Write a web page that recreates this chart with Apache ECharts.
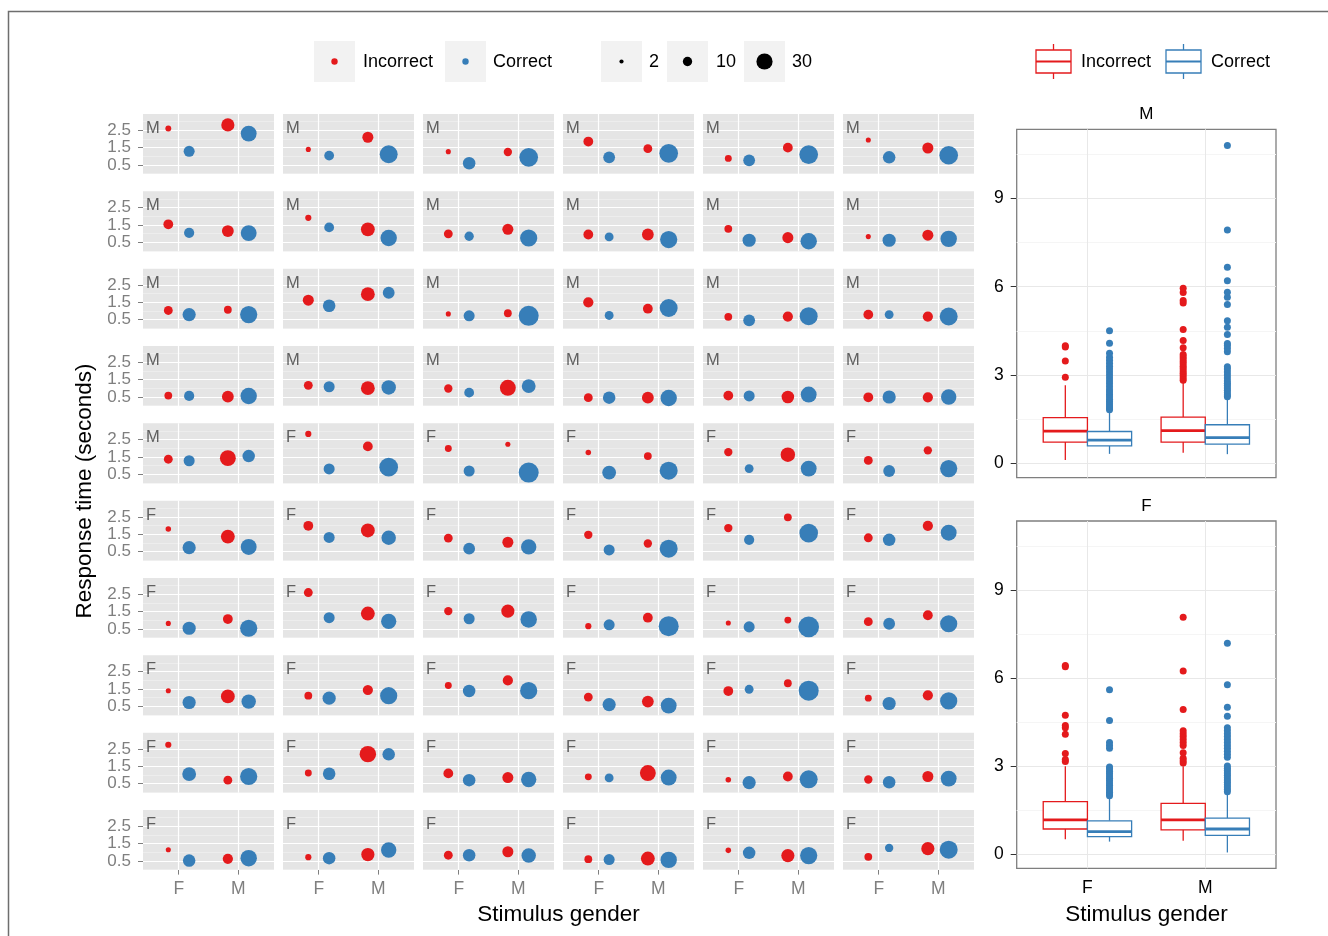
<!DOCTYPE html>
<html><head><meta charset="utf-8">
<script src="https://cdn.jsdelivr.net/npm/echarts@6/dist/echarts.min.js"></script>
<style>html,body{margin:0;padding:0;background:#fff}#c{width:1328px;height:936px}</style>
</head><body><div id="c"></div>
<script>
// ---------- DATA ----------
const stimLabels = ['F', 'M'];
const smallYTicks = [0.5, 1.5, 2.5];
const boxYTicks = [0, 3, 6, 9];
const sizeLegendValues = [2, 10, 30];
const responseLabels = ['Incorrect', 'Correct'];
const participantGender = [
 'M','M','M','M','M','M',
 'M','M','M','M','M','M',
 'M','M','M','M','M','M',
 'M','M','M','M','M','M',
 'M','F','F','F','F','F',
 'F','F','F','F','F','F',
 'F','F','F','F','F','F',
 'F','F','F','F','F','F',
 'F','F','F','F','F','F',
 'F','F','F','F','F','F'];
// mean response time (s) and number of trials per panel (row-major, 10 rows x 6 cols)
const incF_rt = [2.60,1.40,1.27,1.85,0.88,1.94, 1.54,1.91,0.99,0.95,1.28,0.83, 1.03,1.62,0.83,1.50,0.66,0.79, 0.58,1.17,0.99,0.46,0.58,0.48, 1.37,2.83,1.99,1.76,1.78,1.30,
                 1.80,1.99,1.28,1.47,1.86,1.30, 0.82,2.60,1.53,0.66,0.84,0.92, 1.40,1.11,1.70,1.03,1.38,0.97, 2.74,1.11,1.09,0.89,0.72,0.74, 1.15,0.72,0.83,0.60,1.11,0.74];
const incF_n  = [4,3,3,11,5.5,3, 11,4.4,9,11,7,3, 9,14,3,12,7,11, 7,9,8,9,11,11, 9,4.4,5.5,3.5,8,9,
                 3.5,11,9,8,8,9, 3,9,8,4.4,3,9, 3,7,5.5,9,11,5.5, 4.4,5.5,11,5.5,3.5,8, 3,4.4,9,7,3.5,7];
const corF_rt = [1.29,1.04,0.60,0.94,0.77,0.94, 1.05,1.36,0.85,0.81,0.62,0.62, 0.79,1.30,0.72,0.74,0.46,0.79, 0.56,1.09,0.75,0.46,0.56,0.50, 1.28,0.81,0.69,0.60,0.83,0.69,
                 0.73,1.32,0.67,0.60,1.18,1.18, 0.54,1.15,1.09,0.74,0.62,0.80, 0.72,0.97,1.38,0.60,1.48,0.66, 1.05,1.07,0.70,0.83,0.56,0.58, 0.52,0.66,0.83,0.58,0.97,1.25];
const corF_n  = [14,11,18,16,16,18, 12,11,10,9,20,20, 20,18,14,9,16,9, 12,14,11,18,14,20, 14,14,14,22,9,16,
                 20,14,16,14,12,18, 20,14,14,14,14,16, 20,20,18,20,9,20, 22,18,18,9,20,18, 18,18,18,14,18,8];
const incM_rt = [2.81,2.10,1.25,1.44,1.50,1.48, 1.15,1.25,1.25,0.95,0.77,0.91, 1.07,1.97,0.87,1.13,0.68,0.68, 0.52,1.01,1.03,0.46,0.50,0.48, 1.43,2.11,2.23,1.55,1.63,1.88,
                 1.37,1.72,1.04,0.97,2.48,1.99, 1.07,1.39,1.53,1.15,1.01,1.29, 1.07,1.44,1.99,0.77,1.83,1.13, 0.70,2.20,0.85,1.11,0.91,0.91, 0.62,0.87,1.03,0.64,0.81,1.21];
const incM_n  = [20,14,8,9,11,14, 16,22,14,16,14,14, 7,22,7,11,12,12, 16,22,29,16,18,12, 29,11,3,7,24,8,
                 22,22,14,8,7,12, 11,22,20,11,5.5,11, 22,12,12,16,7,12, 9,31,14,29,11,14, 12,20,14,22,20,20];
const corM_rt = [2.31,1.12,0.94,1.17,1.10,1.06, 1.03,0.75,0.75,0.66,0.56,0.70, 0.79,2.05,0.72,1.17,0.70,0.68, 0.56,1.05,1.13,0.44,0.64,0.50, 1.55,0.91,0.60,0.71,0.83,0.83,
                 0.77,1.30,0.77,0.67,1.57,1.59, 0.54,0.94,1.05,0.66,0.62,0.80, 0.77,1.11,1.40,0.54,1.40,0.81, 0.91,2.19,0.74,0.85,0.75,0.79, 0.66,1.13,0.81,0.56,0.81,1.15];
const corM_n  = [29,37,40,40,40,40, 29,31,34,34,31,31, 34,16,46,37,37,37, 31,24,22,31,29,27, 18,40,46,37,29,34,
                 29,24,27,37,40,29, 34,27,31,46,49,34, 24,34,34,29,46,34, 34,18,27,29,37,29, 31,27,24,31,34,37];
// box plots: [lower whisker, Q1, median, Q3, upper whisker]
const boxPanels = ['M', 'F'];
const boxStats = {
  M: { incF: [0.11,0.72,1.09,1.55,2.65], corF: [0.32,0.59,0.79,1.08,1.76], incM: [0.36,0.72,1.11,1.57,2.74], corM: [0.31,0.65,0.87,1.31,2.21] },
  F: { incF: [0.50,0.85,1.16,1.78,2.99], corF: [0.42,0.59,0.76,1.13,1.93], incM: [0.45,0.82,1.16,1.72,2.99], corM: [0.05,0.63,0.85,1.22,2.06] }
};
const boxOutliers = {
  M: { incF: [2.92,3.48,3.95,3.99],
       corF: [1.82,1.88,1.95,2.02,2.1,2.18,2.26,2.34,2.42,2.5,2.6,2.7,2.8,2.9,3.0,3.1,3.2,3.3,3.4,3.5,3.6,3.74,4.08,4.5],
       incM: [2.82,2.9,2.98,3.06,3.14,3.22,3.3,3.38,3.46,3.54,3.62,3.7,3.93,4.17,4.55,5.45,5.53,5.8,5.95],
       corM: [2.26,2.32,2.4,2.48,2.56,2.64,2.72,2.8,2.9,3.0,3.1,3.2,3.28,3.79,3.9,4.0,4.07,4.38,4.62,4.84,5.4,5.64,5.81,6.2,6.66,7.93,10.8] },
  F: { incF: [3.15,3.22,3.42,4.08,4.3,4.38,4.73,6.38,6.42],
       corF: [1.98,2.04,2.1,2.18,2.26,2.34,2.42,2.5,2.58,2.66,2.74,2.82,2.9,2.96,3.6,3.7,3.8,4.55,5.6],
       incM: [3.1,3.18,3.26,3.45,3.7,3.8,3.9,4.0,4.1,4.2,4.92,6.24,8.07],
       corM: [2.12,2.2,2.28,2.36,2.44,2.52,2.6,2.68,2.76,2.84,2.92,3.0,3.3,3.4,3.5,3.6,3.7,3.8,3.9,4.0,4.1,4.2,4.3,4.69,5.0,5.77,7.18] }
};

// ---------- STYLE / LAYOUT ----------
const RED = '#E41A1C', BLUE = '#377EB8';
const FONT = 'Liberation Sans, Arial, sans-serif';
const P = { x0: 143, dx: 140, w: 131, y0: 114, dy: 77.33, h: 60 };
const DODGE = 0.175;
const sizeOf = n => 2.95 * Math.sqrt(n);

const grids = [], xAxes = [], yAxes = [], series = [], graphics = [];
const noEmph = { disabled: true };

for (let i = 0; i < 60; i++) {
  const r = Math.floor(i / 6), c = i % 6;
  const left = P.x0 + c * P.dx, top = P.y0 + r * P.dy;
  grids.push({ left, top, width: P.w, height: P.h, show: true, backgroundColor: '#E5E5E5', borderWidth: 0 });
  xAxes.push({
    type: 'value', gridIndex: i, min: 0.4, max: 2.6, splitLine: { show: false }, axisLine: { show: false },
    axisTick: { show: r === 9, customValues: [1, 2], length: 5, lineStyle: { color: '#7F7F7F', width: 1 } },
    axisLabel: { show: r === 9, customValues: [1, 2], formatter: v => stimLabels[Math.round(v) - 1], color: '#7F7F7F', fontSize: 17.5, fontFamily: FONT, margin: 10 }
  });
  yAxes.push({
    type: 'value', gridIndex: i, min: -0.02, max: 3.44, splitLine: { show: false }, axisLine: { show: false },
    axisTick: { show: c === 0, customValues: smallYTicks, length: 5, lineStyle: { color: '#7F7F7F', width: 1 } },
    axisLabel: { show: c === 0, customValues: smallYTicks, formatter: v => v.toFixed(1), color: '#7F7F7F', fontSize: 17, fontFamily: FONT, margin: 12 }
  });
  const gl = [];
  [0, 1, 2, 3].forEach(v => gl.push({ yAxis: v, lineStyle: { color: '#F2F2F2', width: 0.6 } }));
  smallYTicks.forEach(v => gl.push({ yAxis: v, lineStyle: { color: '#FFFFFF', width: 1.2 } }));
  [1, 2].forEach(v => gl.push({ xAxis: v, lineStyle: { color: '#FFFFFF', width: 1.2 } }));
  series.push({
    name: responseLabels[0], type: 'scatter', xAxisIndex: i, yAxisIndex: i, z: 5,
    data: [[1 - DODGE, incF_rt[i], incF_n[i]], [2 - DODGE, incM_rt[i], incM_n[i]]],
    symbolSize: v => sizeOf(v[2]), itemStyle: { color: RED, opacity: 1 }, emphasis: noEmph, silent: true,
    markLine: { silent: true, z: 1, symbol: ['none', 'none'], label: { show: false }, emphasis: noEmph, animation: false,
      lineStyle: { type: 'solid' }, data: gl }
  });
  series.push({
    name: responseLabels[1], type: 'scatter', xAxisIndex: i, yAxisIndex: i, z: 5,
    data: [[1 + DODGE, corF_rt[i], corF_n[i]], [2 + DODGE, corM_rt[i], corM_n[i]]],
    symbolSize: v => sizeOf(v[2]), itemStyle: { color: BLUE, opacity: 1 }, emphasis: noEmph, silent: true
  });
  // participant gender label (top-left of each panel)
  series.push({
    type: 'scatter', xAxisIndex: i, yAxisIndex: i, z: 6, silent: true, symbolSize: 0,
    data: [[0.4, 3.44, participantGender[i]]],
    label: { show: true, position: 'insideTopLeft', formatter: p => p.data[2], color: '#3C3C3C', fontSize: 16.5, fontFamily: FONT, offset: [-2, 1] },
    emphasis: noEmph
  });
}

// ---------- BOX PLOT PANELS ----------
const BOX = [{ top: 129.3, height: 348.4 }, { top: 521, height: 347.3 }];
const BL = 1016.7, BW = 259.3, BOXW = 0.375;
function boxRender(color) {
  return function (params, api) {
    const x = api.value(0), lo = api.value(1), q1 = api.value(2), md = api.value(3), q3 = api.value(4), hi = api.value(5);
    const h = BOXW / 2;
    const a = api.coord([x - h, q3]), b = api.coord([x + h, q1]);
    const t = api.coord([x, hi]), u = api.coord([x, q3]), d = api.coord([x, q1]), e = api.coord([x, lo]);
    const m1 = api.coord([x - h, md]), m2 = api.coord([x + h, md]);
    const ls = { stroke: color, lineWidth: 1.3, fill: null };
    return { type: 'group', children: [
      { type: 'line', shape: { x1: t[0], y1: t[1], x2: u[0], y2: u[1] }, style: ls },
      { type: 'line', shape: { x1: d[0], y1: d[1], x2: e[0], y2: e[1] }, style: ls },
      { type: 'rect', shape: { x: a[0], y: a[1], width: b[0] - a[0], height: b[1] - a[1] }, style: { stroke: color, lineWidth: 1.3, fill: '#fff' } },
      { type: 'line', shape: { x1: m1[0], y1: m1[1], x2: m2[0], y2: m2[1] }, style: { stroke: color, lineWidth: 2.8 } }
    ] };
  };
}
boxPanels.forEach((g, k) => {
  const gi = 60 + k;
  grids.push({ left: BL, top: BOX[k].top, width: BW, height: BOX[k].height, show: true, backgroundColor: '#fff', borderColor: '#7F7F7F', borderWidth: 1.3 });
  xAxes.push({
    type: 'value', gridIndex: gi, min: 0.4, max: 2.6, splitLine: { show: false }, axisLine: { show: false },
    axisTick: { show: k === 1, customValues: [1, 2], length: 6, lineStyle: { color: '#333', width: 1 } },
    axisLabel: { show: k === 1, customValues: [1, 2], formatter: v => stimLabels[Math.round(v) - 1], color: '#000', fontSize: 17.5, fontFamily: FONT, margin: 11 }
  });
  yAxes.push({
    type: 'value', gridIndex: gi, min: -0.49, max: 11.35, splitLine: { show: false }, axisLine: { show: false },
    axisTick: { show: true, customValues: boxYTicks, length: 6, lineStyle: { color: '#333', width: 1 } },
    axisLabel: { show: true, customValues: boxYTicks, color: '#000', fontSize: 17.5, fontFamily: FONT, margin: 13 }
  });
  const gl = [];
  [1.5, 4.5, 7.5, 10.5].forEach(v => gl.push({ yAxis: v, lineStyle: { color: '#F5F5F5', width: 1 } }));
  boxYTicks.forEach(v => gl.push({ yAxis: v, lineStyle: { color: '#E8E8E8', width: 1 } }));
  [1, 2].forEach(v => gl.push({ xAxis: v, lineStyle: { color: '#E8E8E8', width: 1 } }));
  const S = boxStats[g], O = boxOutliers[g];
  series.push({
    name: responseLabels[0], type: 'custom', xAxisIndex: gi, yAxisIndex: gi, z: 4, silent: true,
    renderItem: boxRender(RED), encode: { x: 0, y: [1, 2, 3, 4, 5] },
    data: [[1 - 0.1875, ...S.incF], [2 - 0.1875, ...S.incM]],
    markLine: { silent: true, z: 1, symbol: ['none', 'none'], label: { show: false }, emphasis: noEmph, animation: false, lineStyle: { type: 'solid' }, data: gl }
  });
  series.push({
    name: responseLabels[1], type: 'custom', xAxisIndex: gi, yAxisIndex: gi, z: 4, silent: true,
    renderItem: boxRender(BLUE), encode: { x: 0, y: [1, 2, 3, 4, 5] },
    data: [[1 + 0.1875, ...S.corF], [2 + 0.1875, ...S.corM]]
  });
  series.push({
    type: 'scatter', xAxisIndex: gi, yAxisIndex: gi, z: 5, silent: true, symbolSize: 7,
    itemStyle: { color: RED, opacity: 1 }, emphasis: noEmph,
    data: O.incF.map(v => [1 - 0.1875, v]).concat(O.incM.map(v => [2 - 0.1875, v]))
  });
  series.push({
    type: 'scatter', xAxisIndex: gi, yAxisIndex: gi, z: 5, silent: true, symbolSize: 7,
    itemStyle: { color: BLUE, opacity: 1 }, emphasis: noEmph,
    data: O.corF.map(v => [1 + 0.1875, v]).concat(O.corM.map(v => [2 + 0.1875, v]))
  });
  graphics.push({ type: 'text', x: BL + BW / 2, y: BOX[k].top - 15, silent: true,
    style: { text: g, fill: '#000', font: '17px ' + FONT, textAlign: 'center', textVerticalAlign: 'middle' } });
});

// ---------- TITLES, LEGENDS, FRAME ----------
graphics.push({ type: 'rect', shape: { x: 8.5, y: 11.5, width: 1340, height: 960 }, style: { fill: null, stroke: '#6E6E6E', lineWidth: 1.5 }, silent: true });
graphics.push({ type: 'text', x: 558.5, y: 915, silent: true, style: { text: 'Stimulus gender', fill: '#000', font: '22.5px ' + FONT, textAlign: 'center', textVerticalAlign: 'middle' } });
graphics.push({ type: 'text', x: 1146.5, y: 915, silent: true, style: { text: 'Stimulus gender', fill: '#000', font: '22.5px ' + FONT, textAlign: 'center', textVerticalAlign: 'middle' } });
graphics.push({ type: 'text', x: 85, y: 491, rotation: Math.PI / 2, silent: true, style: { text: 'Response time (seconds)', fill: '#000', font: '22.5px ' + FONT, textAlign: 'center', textVerticalAlign: 'middle' } });

// colour legend
const keyBg = '#F2F2F2';
[[314, RED, 363, responseLabels[0]], [445, BLUE, 493, responseLabels[1]]].forEach(([kx, col, tx, lab]) => {
  graphics.push({ type: 'rect', shape: { x: kx, y: 41, width: 41, height: 41 }, style: { fill: keyBg } });
  graphics.push({ type: 'circle', shape: { cx: kx + 20.5, cy: 61.5, r: 3.2 }, style: { fill: col } });
  graphics.push({ type: 'text', x: tx, y: 62, style: { text: lab, fill: '#000', font: '18px ' + FONT, textVerticalAlign: 'middle' } });
});
// size legend
[[601, 649], [667, 716], [744, 792]].forEach(([kx, tx], j) => {
  graphics.push({ type: 'rect', shape: { x: kx, y: 41, width: 41, height: 41 }, style: { fill: keyBg } });
  graphics.push({ type: 'circle', shape: { cx: kx + 20.5, cy: 61.5, r: sizeOf(sizeLegendValues[j]) / 2 }, style: { fill: '#000' } });
  graphics.push({ type: 'text', x: tx, y: 62, style: { text: String(sizeLegendValues[j]), fill: '#000', font: '18px ' + FONT, textVerticalAlign: 'middle' } });
});
// box legend
[[1036, RED, 1081, responseLabels[0]], [1166, BLUE, 1211, responseLabels[1]]].forEach(([kx, col, tx, lab]) => {
  const cx = kx + 17.5;
  graphics.push({ type: 'line', shape: { x1: cx, y1: 44, x2: cx, y2: 79 }, style: { stroke: col, lineWidth: 1.3 } });
  graphics.push({ type: 'rect', shape: { x: kx, y: 50, width: 35, height: 23 }, style: { fill: '#fff', stroke: col, lineWidth: 1.3 } });
  graphics.push({ type: 'line', shape: { x1: kx, y1: 61.5, x2: kx + 35, y2: 61.5 }, style: { stroke: col, lineWidth: 2.2 } });
  graphics.push({ type: 'text', x: tx, y: 62, style: { text: lab, fill: '#000', font: '18px ' + FONT, textVerticalAlign: 'middle' } });
});

const chart = echarts.init(document.getElementById('c'), null, { renderer: 'canvas' });
chart.setOption({
  animation: false,
  backgroundColor: '#fff',
  textStyle: { fontFamily: FONT },
  grid: grids, xAxis: xAxes, yAxis: yAxes, series: series,
  graphic: { elements: graphics }
});
</script></body></html>
